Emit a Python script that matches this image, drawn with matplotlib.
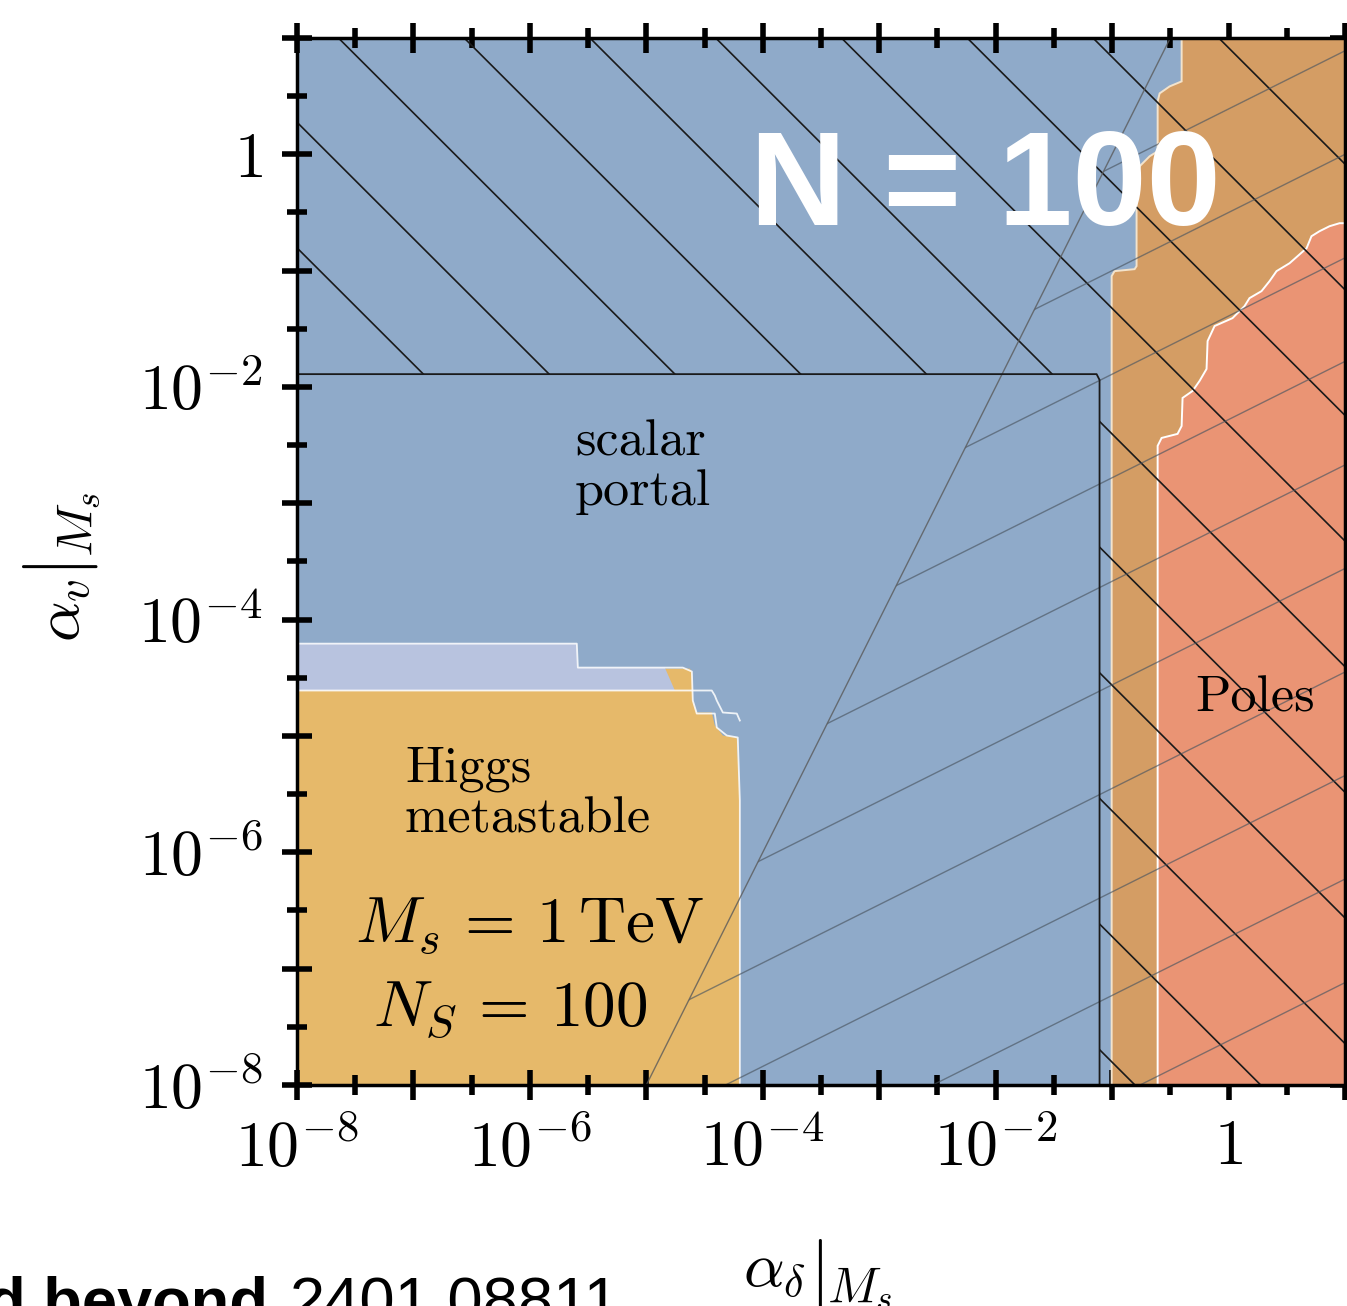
import numpy as np
import matplotlib
matplotlib.use("Agg")
import matplotlib.pyplot as plt
from matplotlib.patches import Polygon
from matplotlib.ticker import FixedLocator, FixedFormatter, NullFormatter

plt.rcParams["mathtext.fontset"] = "cm"
plt.rcParams["font.family"] = "serif"
plt.rcParams["font.serif"] = ["cmr10", "DejaVu Serif"]
plt.rcParams["axes.unicode_minus"] = False

# --- regions, stored as log10 exponents (x = alpha_delta, y = alpha_v) ---
higgs_lx = [-8, -8, -4.627, -4.609, -4.601, -4.567, -4.438, -4.412, -4.395, -4.343, -4.223, -4.197, -4.197]
higgs_ly = [-8, -4.421, -4.421, -4.446, -4.695, -4.798, -4.798, -4.910, -4.927, -4.996, -5.013, -5.554, -8]

lav_lx = [-8, -5.597, -5.588, -4.841, -4.755, -8]
lav_ly = [-4.206, -4.206, -4.412, -4.412, -4.609, -4.609]
# white outlines around the Higgs / lavender steps
edge1_lx = [-8, -5.597, -5.588, -4.687, -4.609, -4.601, -4.567, -4.412, -4.395, -4.309, -4.215, -4.197, -4.197]
edge1_ly = [-4.206, -4.206, -4.412, -4.412, -4.446, -4.695, -4.807, -4.807, -4.927, -4.996, -5.013, -5.554, -8]
edge2_lx = [-8, -4.438, -4.412, -4.395, -4.343, -4.223, -4.197]
edge2_ly = [-4.609, -4.609, -4.652, -4.695, -4.798, -4.807, -4.867]

tan_lx = [-1.004, -1.004, -0.979, -0.807, -0.790, -0.790, -0.764, -0.678, -0.609, -0.609, -0.592, -0.506, -0.403, -0.403, 1, 1]
tan_ly = [-8, -1.047, -1.004, -0.987, -0.961, -0.189, -0.103, -0.017, 0.026, 0.455, 0.524, 0.584, 0.627, 1, 1, -8]

poles_lx = [-0.609, -0.609, -0.575, -0.438, -0.403, -0.395, -0.309, -0.249, -0.189, -0.180, -0.120, 0.034,
            0.137, 0.180, 0.283, 0.352, 0.412, 0.524, 0.592, 0.670, 0.712, 0.781, 0.867, 0.953, 1, 1]
poles_ly = [-8, -2.506, -2.438, -2.403, -2.335, -2.094, -2.034, -1.948, -1.845, -1.605, -1.476, -1.408,
            -1.305, -1.236, -1.176, -1.090, -1.004, -0.936, -0.876, -0.807, -0.704, -0.661, -0.618, -0.592, -0.592, -8]

# scalar-portal box (black outline, hatched outside)
box_x = [1e-8, 0.0736, 0.078, 0.078]
box_y = [0.0129, 0.0129, 0.0115, 1e-8]
# gray boundary alpha_v = 100 alpha_delta^2
diag_x = [1e-5, 0.316]
diag_y = [1e-8, 10]

xtick_major = [1e-8, 1e-7, 1e-6, 1e-5, 1e-4, 1e-3, 1e-2, 1e-1, 1, 10]
xtick_labels = ["$10^{-8}$", "", "$10^{-6}$", "", "$10^{-4}$", "", "$10^{-2}$", "", "$1$", ""]
tick_minor = [10 ** (k + 0.5) for k in range(-8, 1)]

BLUE = "#8FAAC9"
YELLOW = "#E6B96A"
LAV = "#B8C3DF"
TAN = "#D49D64"
SALMON = "#EA9474"

W, H = 1347, 1306
fig = plt.figure(figsize=(W / 100, H / 100), dpi=100)
ax = fig.add_axes([297 / W, 1 - 1085 / H, 1048 / W, 1047 / H])
ax.set_xscale("log"); ax.set_yscale("log")
ax.set_xlim(1e-8, 10); ax.set_ylim(1e-8, 10)
ax.set_facecolor(BLUE)


def poly(lx, ly, **kw):
    p = Polygon(np.column_stack([10.0 ** np.array(lx), 10.0 ** np.array(ly)]), closed=True, **kw)
    ax.add_patch(p)
    return p


poly(higgs_lx, higgs_ly, facecolor=YELLOW, edgecolor="none", zorder=1)
poly(lav_lx, lav_ly, facecolor=LAV, edgecolor="none", zorder=1.5)
ax.plot(10.0 ** np.array(edge1_lx), 10.0 ** np.array(edge1_ly), color="white", lw=1.3, alpha=0.85, zorder=2)
ax.plot(10.0 ** np.array(edge2_lx), 10.0 ** np.array(edge2_ly), color="white", lw=1.3, alpha=0.85, zorder=2)
poly(tan_lx, tan_ly, facecolor=TAN, edgecolor="#F3E3CC", lw=1.4, zorder=2)
poly(poles_lx, poles_ly, facecolor=SALMON, edgecolor="white", lw=1.4, zorder=2.5)

# hatch clip regions
clip_black = Polygon([(1e-8, 0.0129), (0.078, 0.0129), (0.078, 1e-8), (10, 1e-8), (10, 10), (1e-8, 10)],
                     closed=True, transform=ax.transData, facecolor="none", edgecolor="none")
clip_gray = Polygon([(1e-5, 1e-8), (0.316, 10), (10, 10), (10, 1e-8)],
                    closed=True, transform=ax.transData, facecolor="none", edgecolor="none")
ax.add_patch(clip_black); ax.add_patch(clip_gray)

xx = np.array([1e-12, 1e4])
for c in -6.644 + 1.08 * np.arange(-10, 10):
    ln, = ax.plot(xx, 10 ** c / xx, color="#1a1a1a", lw=1.2, zorder=3)
    ln.set_clip_path(clip_black)
for c in -1.39 + 0.89 * np.arange(-9, 4):
    ln, = ax.plot(xx, 10 ** c * np.sqrt(xx), color="#4a5560", lw=1.0, alpha=0.65, zorder=3)
    ln.set_clip_path(clip_gray)

ax.plot(diag_x, diag_y, color="#5a5a5a", lw=1.0, alpha=0.8, zorder=3)
ax.plot(box_x, box_y, color="#1a1a1a", lw=1.3, zorder=3.5)

ax.set_xlim(1e-8, 10); ax.set_ylim(1e-8, 10)

# ticks
for axis in (ax.xaxis, ax.yaxis):
    axis.set_major_locator(FixedLocator(xtick_major))
    axis.set_major_formatter(FixedFormatter(xtick_labels))
    axis.set_minor_locator(FixedLocator(tick_minor))
    axis.set_minor_formatter(NullFormatter())
ax.tick_params(which="both", direction="inout", top=True, right=True, width=4, color="black",
               labelsize=46, pad=14)
ax.tick_params(which="major", length=21.5)
ax.tick_params(which="minor", length=14.5)
for s in ax.spines.values():
    s.set_linewidth(2.5)
    s.set_zorder(10)

# labels inside the plot
tk = dict(transform=ax.transAxes, fontfamily="cmr10", fontsize=37.5, color="black", va="baseline", zorder=6)
ax.text(0.2653, 0.6016, "scalar", **tk)
ax.text(0.2653, 0.554, "portal", **tk)
ax.text(0.103, 0.2894, "Higgs", **tk)
ax.text(0.103, 0.2407, "metastable", **tk)
ax.text(0.8569, 0.3563, "Poles", **tk)
ax.text(0.2223, 0.1356, r"$M_s \,=\, 1\,\mathrm{TeV}$", transform=ax.transAxes, fontsize=47,
        ha="center", va="baseline", zorder=6)
ax.text(0.2033, 0.0554, r"$N_S \,=\, 100$", transform=ax.transAxes, fontsize=47,
        ha="center", va="baseline", zorder=6)

fig.text(750 / W, 1 - 225 / H, "N = 100", color="white", fontsize=96, fontweight="bold",
         family="Liberation Sans", ha="left", va="baseline", zorder=20)

# axis titles, built from pieces so the evaluation bar is tall like the original
rot = dict(rotation=90, rotation_mode="anchor")
fig.text(80 / W, 1 - 642 / H, r"$\alpha_v$", fontsize=46, ha="left", va="baseline", **rot)
fig.text(60 / W, 1 - 570 / H, r"$|$", fontsize=54, ha="center", va="center", **rot)
fig.text(91 / W, 1 - 557 / H, r"$M_s$", fontsize=36, ha="left", va="baseline", **rot)

fig.text(743 / W, 1 - 1287 / H, r"$\alpha_\delta$", fontsize=46, ha="left", va="baseline")
fig.text(816 / W, 1 - 1277 / H, r"$|$", fontsize=54, ha="center", va="center")
fig.text(827 / W, 1 - 1301 / H, r"$M_s$", fontsize=36, ha="left", va="baseline")

# slide footer (cut off at the bottom like the original)
fig.text(268 / W, 1 - 1322 / H, "d beyond", fontsize=45.5, fontweight="bold", family="Liberation Sans",
         ha="right", va="baseline")
fig.text(290 / W, 1 - 1322 / H, "2401.08811", fontsize=45.5, family="Liberation Sans",
         ha="left", va="baseline")

fig.savefig("out.png", dpi=100)
